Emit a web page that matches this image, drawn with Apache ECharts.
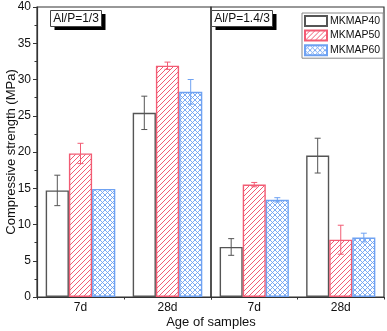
<!DOCTYPE html>
<html>
<head>
<meta charset="utf-8">
<script src="https://cdn.jsdelivr.net/npm/echarts@6/dist/echarts.min.js"></script>
<style>
  html, body { margin: 0; padding: 0; background: #fff; }
  #chart { width: 387px; height: 331px; }
</style>
</head>
<body>
<div id="chart"></div>
<script>
// Compressive strength of MKMAP mortars at two Al/P ratios
const categories = ['7d', '28d'];
const seriesNames = ['MKMAP40', 'MKMAP50', 'MKMAP60'];
const panelLabels = ['Al/P=1/3', 'Al/P=1.4/3'];

// Al/P = 1/3 : mean strength (MPa) and standard deviation
const p1Mkmap40 = [14.7, 25.4];
const p1Mkmap50 = [19.8, 31.9];
const p1Mkmap60 = [14.9, 28.3];
const p1Err40 = [2.1, 2.3];
const p1Err50 = [1.4, 0.5];
const p1Err60 = [0.0, 1.7];

// Al/P = 1.4/3
const p2Mkmap40 = [6.9, 19.5];
const p2Mkmap50 = [15.5, 7.9];
const p2Mkmap60 = [13.4, 8.2];
const p2Err40 = [1.15, 2.4];
const p2Err50 = [0.3, 2.0];
const p2Err60 = [0.3, 0.6];

const yMin = 0, yMax = 40, yStep = 5;

const FONT = '"Liberation Sans", Arial, sans-serif';
const GRAY = '#555555';
const RED = '#f25c74';
const BLUE = '#6fa2f2';

// Tiled hatch fills: "/" lines, optionally crossed with "\" lines
function hatch(color, size, cross, alpha) {
  const c = document.createElement('canvas');
  c.width = c.height = size;
  const g = c.getContext('2d');
  g.fillStyle = '#ffffff';
  g.fillRect(0, 0, size, size);
  g.globalAlpha = alpha;
  g.strokeStyle = color;
  g.lineWidth = 1;
  g.beginPath();
  g.moveTo(-1, size + 1); g.lineTo(size + 1, -1);
  g.moveTo(-1, 1); g.lineTo(1, -1);
  g.moveTo(size - 1, size + 1); g.lineTo(size + 1, size - 1);
  if (cross) {
    g.moveTo(-1, -1); g.lineTo(size + 1, size + 1);
    g.moveTo(size - 1, -1); g.lineTo(size + 1, 1);
    g.moveTo(-1, size - 1); g.lineTo(1, size + 1);
  }
  g.stroke();
  return c;
}

const fills = [
  '#ffffff',
  { image: hatch(RED, 5, false, 1), repeat: 'repeat' },
  { image: hatch(BLUE, 5, true, 0.9), repeat: 'repeat' }
];
const edges = [GRAY, RED, BLUE];

const panels = [
  { values: [p1Mkmap40, p1Mkmap50, p1Mkmap60], errs: [p1Err40, p1Err50, p1Err60] },
  { values: [p2Mkmap40, p2Mkmap50, p2Mkmap60], errs: [p2Err40, p2Err50, p2Err60] }
];

const CAT_GAP = 0.2; // barCategoryGap fraction

function errorRenderer(k) {
  return function (params, api) {
    const cat = api.value(0);
    const mean = api.value(1);
    const sd = api.value(2);
    if (!sd) return null;
    const band = api.size([1, 0])[0];
    const bw = band * (1 - CAT_GAP) / 3;
    const cx = api.coord([cat, 0])[0] + (k - 1) * bw;
    const yHi = api.coord([cat, mean + sd])[1];
    const yLo = api.coord([cat, mean - sd])[1];
    const cap = 3;
    const style = { stroke: edges[k], lineWidth: 1 };
    return {
      type: 'group',
      children: [
        { type: 'line', shape: { x1: cx, y1: yHi, x2: cx, y2: yLo }, style: style },
        { type: 'line', shape: { x1: cx - cap, y1: yHi, x2: cx + cap, y2: yHi }, style: style },
        { type: 'line', shape: { x1: cx - cap, y1: yLo, x2: cx + cap, y2: yLo }, style: style }
      ]
    };
  };
}

const grids = [
  { left: 37, top: 7, width: 174, height: 290 },
  { left: 211, top: 7, width: 173, height: 290 }
].map(g => Object.assign(g, { show: true, borderColor: '#333', borderWidth: 1.2, backgroundColor: 'transparent' }));

const xAxes = [];
const yAxes = [];
const series = [];

panels.forEach((panel, p) => {
  // labelled axis with ticks at category centres
  xAxes.push({
    type: 'category', gridIndex: p, data: categories, position: 'bottom',
    axisLine: { lineStyle: { color: '#333', width: 1.2 } },
    axisTick: { alignWithLabel: true, length: 4, lineStyle: { color: '#333' } },
    axisLabel: { margin: 5, color: '#111', fontSize: 12, fontFamily: FONT }
  });
  yAxes.push({
    type: 'value', gridIndex: p, min: yMin, max: yMax, interval: yStep,
    splitLine: { show: false },
    axisLine: { show: p === 0, lineStyle: { color: '#333', width: 1.2 } },
    axisTick: { show: p === 0, length: 4, lineStyle: { color: '#333' } },
    minorTick: { show: p === 0, splitNumber: 2, length: 2.5, lineStyle: { color: '#333' } },
    axisLabel: { show: p === 0, margin: 6, color: '#111', fontSize: 12, fontFamily: FONT },
    name: p === 0 ? 'Compressive strength (MPa)' : '',
    nameLocation: 'middle', nameGap: 19, nameMoveOverlap: false,
    nameTextStyle: { fontSize: 13, color: '#111', fontFamily: FONT }
  });
  panel.values.forEach((vals, k) => {
    series.push({
      type: 'bar', name: seriesNames[k], xAxisIndex: p, yAxisIndex: p,
      data: vals, barGap: '0%', barCategoryGap: (CAT_GAP * 100) + '%',
      itemStyle: { color: fills[k], borderColor: edges[k], borderWidth: 1.4 },
      emphasis: { disabled: true }, z: 2
    });
  });
  panel.values.forEach((vals, k) => {
    series.push({
      type: 'custom', name: seriesNames[k] + ' SD', xAxisIndex: p, yAxisIndex: p,
      renderItem: errorRenderer(k),
      encode: { x: 0, y: 1 },
      data: categories.map((c, i) => [c, vals[i], panel.errs[k][i]]),
      z: 5, silent: true
    });
  });
});

// boundary ticks between categories (no labels, no line)
panels.forEach((panel, p) => {
  xAxes.push({
    type: 'category', gridIndex: p, data: categories, position: 'bottom',
    axisLine: { show: false },
    axisTick: { show: true, alignWithLabel: false, length: 2.5, lineStyle: { color: '#333' } },
    axisLabel: { show: false }
  });
});

// framed panel captions with a drop shadow
function caption(text, x, y, w, h) {
  return {
    type: 'group', x: x, y: y, z: 50,
    children: [
      { type: 'rect', shape: { x: 4, y: 3.5, width: w, height: h }, style: { fill: '#000' } },
      { type: 'rect', shape: { x: 0, y: 0, width: w, height: h }, style: { fill: '#fff', stroke: '#444', lineWidth: 1 } },
      { type: 'text', x: w / 2, y: h / 2 + 0.5, style: { text: text, fill: '#111', fontSize: 12, fontFamily: FONT, align: 'center', verticalAlign: 'middle' } }
    ]
  };
}

const option = {
  animation: false,
  backgroundColor: '#fff',
  grid: grids,
  xAxis: xAxes,
  yAxis: yAxes,
  legend: {
    data: seriesNames,
    orient: 'vertical', left: 302, top: 13,
    icon: 'rect', itemWidth: 22, itemHeight: 10, itemGap: 2.6,
    padding: [2, 3, 2, 2],
    borderColor: '#888', borderWidth: 1, backgroundColor: '#fff',
    textStyle: { fontSize: 10.5, color: '#111', fontFamily: FONT, padding: [0, 0, 0, -2] },
    selectedMode: false
  },
  graphic: [
    caption(panelLabels[0], 50.5, 10.5, 51, 16),
    caption(panelLabels[1], 211.5, 10.5, 61, 16),
    {
      type: 'text', x: 211, y: 322, z: 50,
      style: { text: 'Age of samples', fill: '#111', fontSize: 13, fontFamily: FONT, align: 'center', verticalAlign: 'middle' }
    }
  ],
  series: series
};

const chart = echarts.init(document.getElementById('chart'), null, { renderer: 'canvas' });
chart.setOption(option);
</script>
</body>
</html>
